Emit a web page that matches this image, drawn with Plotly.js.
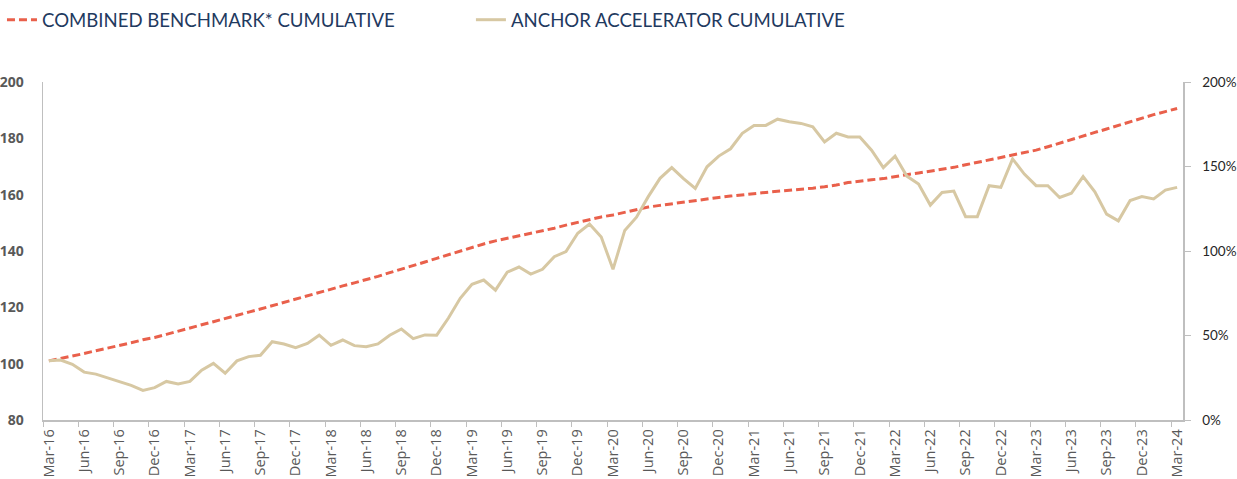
<!DOCTYPE html>
<html>
<head>
<meta charset="utf-8">
<script src="https://cdn.plot.ly/plotly-3.0.1.min.js"></script>
<style>
html,body{margin:0;padding:0;background:#fff;}
#chart{width:1237px;height:479px;}
</style>
</head>
<body>
<div id="chart"></div>
<script>
// Tick labels (every quarter, Mar-16 .. Mar-24)
var tickLabels = ["Mar-16","Jun-16","Sep-16","Dec-16","Mar-17","Jun-17","Sep-17","Dec-17",
  "Mar-18","Jun-18","Sep-18","Dec-18","Mar-19","Jun-19","Sep-19","Dec-19",
  "Mar-20","Jun-20","Sep-20","Dec-20","Mar-21","Jun-21","Sep-21","Dec-21",
  "Mar-22","Jun-22","Sep-22","Dec-22","Mar-23","Jun-23","Sep-23","Dec-23","Mar-24"];

// Monthly values, Mar-16 .. Mar-24 (97 months)
var benchmark = [101.0,101.8,102.7,103.6,104.6,105.5,106.5,107.4,108.5,109.3,110.4,111.6,
  112.7,113.8,114.9,116.1,117.2,118.3,119.4,120.6,121.8,122.9,124.0,125.2,
  126.4,127.6,128.7,129.8,131.0,132.3,133.5,134.8,136.1,137.4,138.7,140.0,
  141.3,142.5,143.6,144.5,145.2,146.1,147.0,148.1,149.2,150.2,151.0,152.1,
  152.8,153.8,154.8,155.6,156.2,156.8,157.3,157.8,158.4,159.0,159.5,160.0,
  160.4,160.8,161.2,161.5,161.9,162.3,162.8,163.4,164.3,164.9,165.3,165.7,
  166.5,167.1,167.7,168.3,169.0,169.7,170.6,171.4,172.3,173.2,174.1,175.0,
  175.8,177.0,178.3,179.7,180.9,182.1,183.3,184.6,185.8,187.2,188.4,189.5,190.6];

var anchor = [101.0,101.3,99.8,97.0,96.3,94.9,93.6,92.3,90.5,91.5,93.7,92.8,
  93.7,97.7,100.1,96.6,101.0,102.5,103.0,107.8,107.0,105.7,107.2,110.1,
  106.5,108.4,106.4,106.0,107.0,110.1,112.3,108.9,110.2,110.1,116.2,123.2,
  128.2,129.7,126.1,132.5,134.3,131.8,133.5,138.0,139.8,146.3,149.6,145.0,
  133.5,147.3,152.0,159.3,165.8,169.6,165.7,162.2,169.9,173.7,176.3,181.8,
  184.6,184.6,186.8,185.9,185.3,184.1,178.7,181.8,180.5,180.5,175.8,169.6,
  173.7,166.6,163.8,156.3,160.8,161.3,152.2,152.2,163.2,162.6,172.7,167.3,
  163.2,163.2,159.0,160.5,166.4,161.0,153.1,150.7,157.9,159.3,158.5,161.6,162.6];

var seriesNames = ["COMBINED BENCHMARK* CUMULATIVE", "ANCHOR ACCELERATOR CUMULATIVE"];

// Right-hand axis range (cumulative %)
var pctRange = [0, 2];

var xIdx = benchmark.map(function(_, i){ return i; });
var tickVals = tickLabels.map(function(_, i){ return i * 3; });
var minorVals = [];
for (var k = 0; k <= tickLabels.length; k++) minorVals.push(k * 3 - 0.5);

var traces = [
  {
    x: xIdx, y: benchmark, name: seriesNames[0], type: 'scatter', mode: 'lines',
    line: {color: '#E9604B', width: 3, dash: '8px,4px'},
    legend: 'legend', hoverinfo: 'skip'
  },
  {
    x: xIdx, y: anchor, name: seriesNames[1], type: 'scatter', mode: 'lines',
    line: {color: '#D7C8A3', width: 3},
    legend: 'legend2', hoverinfo: 'skip'
  },
  // invisible carrier so the right-hand % axis is drawn
  {
    x: [xIdx[0]], y: [pctRange[0]], yaxis: 'y2', type: 'scatter', mode: 'markers',
    marker: {opacity: 0, size: 1}, showlegend: false, hoverinfo: 'skip'
  }
];

var axisGray = '#BFBFBF';
var legendFont = {family: 'Lato, "Open Sans", sans-serif', size: 18.6, color: '#1F3A5F'};

var layout = {
  width: 1237, height: 479, autosize: false,
  margin: {l: 43, r: 54, t: 82, b: 59, pad: 0},
  paper_bgcolor: '#fff', plot_bgcolor: '#fff',
  xaxis: {
    range: [-0.5, 96.5], tickmode: 'array', tickvals: tickVals, ticktext: tickLabels,
    tickangle: -90, ticks: '', showgrid: false, zeroline: false, automargin: false,
    showline: true, linecolor: axisGray, linewidth: 1.5, ticklabelstandoff: 2,
    tickfont: {family: '"Open Sans", sans-serif', size: 14.5, color: '#595959'},
    minor: {tickmode: 'array', tickvals: minorVals, ticks: 'outside', ticklen: 5,
            tickcolor: axisGray, tickwidth: 1, showgrid: false}
  },
  yaxis: {
    range: [80, 200], tick0: 80, dtick: 20, ticks: '', showgrid: false, zeroline: false,
    automargin: false,
    showline: true, linecolor: axisGray, linewidth: 1.5, ticklabelstandoff: 15,
    tickfont: {family: '"Open Sans", sans-serif', size: 14, color: '#595959', weight: 700}
  },
  yaxis2: {
    overlaying: 'y', side: 'right', range: pctRange, tick0: 0, dtick: 0.5, tickformat: '.0%',
    showgrid: false, zeroline: false, showline: true, linecolor: axisGray, linewidth: 1.5,
    automargin: false,
    ticks: 'outside', ticklen: 6, tickcolor: axisGray, ticklabelstandoff: 9,
    tickfont: {family: 'Lato, sans-serif', size: 13.5, color: '#262626'}
  },
  showlegend: true,
  legend: {orientation: 'h', xref: 'container', yref: 'container',
           x: 0.0016, xanchor: 'left', y: 0.958, yanchor: 'middle',
           bgcolor: 'rgba(0,0,0,0)', font: legendFont},
  legend2: {orientation: 'h', xref: 'container', yref: 'container',
           x: 0.3807, xanchor: 'left', y: 0.958, yanchor: 'middle',
           bgcolor: 'rgba(0,0,0,0)', font: legendFont}
};

Plotly.newPlot('chart', traces, layout, {displayModeBar: false, staticPlot: true});
</script>
</body>
</html>
